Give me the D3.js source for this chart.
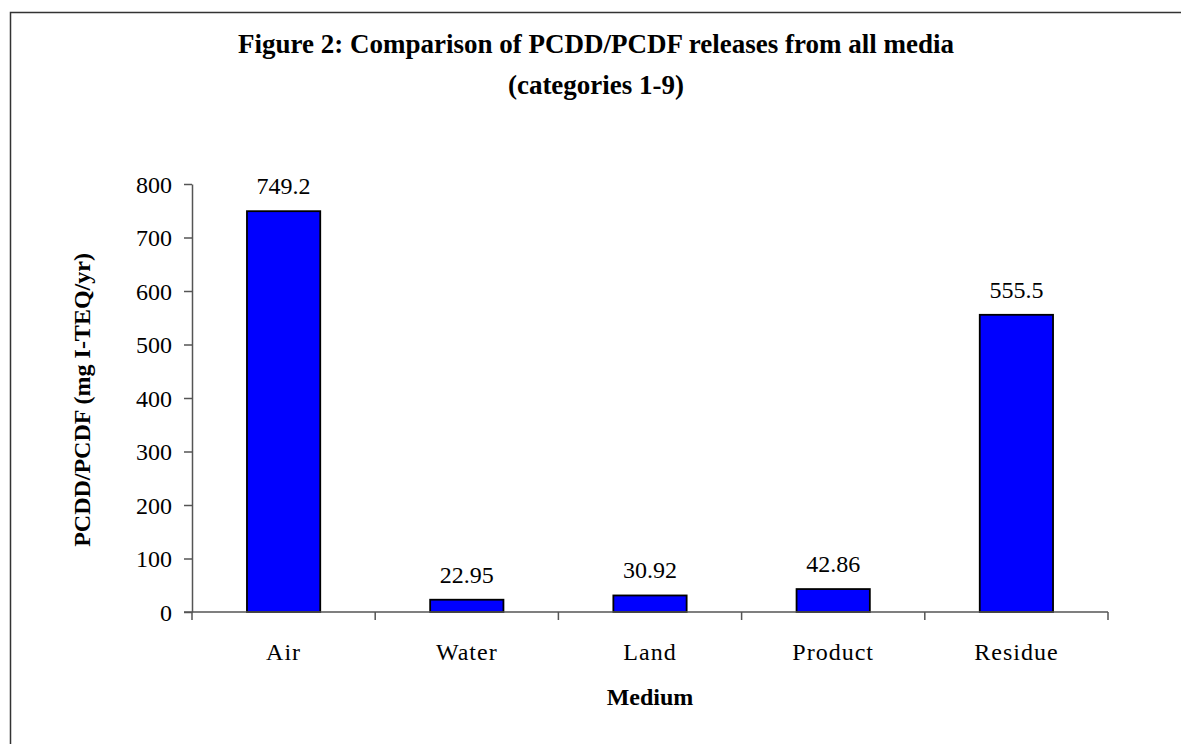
<!DOCTYPE html>
<html>
<head>
    <meta charset="utf-8">
    <title>Figure 2</title>
    <style>
        body { margin: 0; background: #fff; }
        text { font-family: "Liberation Serif", "Times New Roman", serif; fill: #000; }
        .axis path, .axis line { stroke: #555; stroke-width: 1.5px; }
        .axis text { font-size: 24px; }
        .bar { fill: #0000ff; stroke: #000; stroke-width: 1.8px; }
        .label { font-size: 24px; }
        .title { font-size: 27px; font-weight: bold; }
        .axis-title { font-size: 24px; font-weight: bold; }
    </style>
</head>
<body>
    <script src="https://d3js.org/d3.v7.min.js"></script>
    <script>
        const width = 1181;
        const height = 744;

        const categories = ["Air", "Water", "Land", "Product", "Residue"];
        const values = [749.2, 22.95, 30.92, 42.86, 555.5];
        const valueLabels = ["749.2", "22.95", "30.92", "42.86", "555.5"];
        const yTicks = [0, 100, 200, 300, 400, 500, 600, 700, 800];

        const margin = {top: 184, right: 73, bottom: 132, left: 192};

        const svg = d3.select("body").append("svg")
            .attr("width", width)
            .attr("height", height);

        // outer frame
        svg.append("rect")
            .attr("x", 10.5)
            .attr("y", 12.5)
            .attr("width", 1200)
            .attr("height", 800)
            .attr("fill", "none")
            .attr("stroke", "#333")
            .attr("stroke-width", 1.5);

        const x = d3.scaleBand()
            .domain(categories)
            .range([margin.left, width - margin.right])
            .padding(0);

        const y = d3.scaleLinear()
            .domain([0, 800])
            .range([height - margin.bottom, margin.top]);

        const barW = x.bandwidth() * 0.4;

        svg.append("g")
            .selectAll("rect")
            .data(categories)
            .enter().append("rect")
            .attr("class", "bar")
            .attr("x", d => x(d) + (x.bandwidth() - barW) / 2)
            .attr("y", (d, i) => y(values[i]))
            .attr("width", barW)
            .attr("height", (d, i) => y(0) - y(values[i]));

        svg.append("g")
            .selectAll("text")
            .data(categories)
            .enter().append("text")
            .attr("class", "label")
            .attr("text-anchor", "middle")
            .attr("x", d => x(d) + x.bandwidth() / 2)
            .attr("y", (d, i) => y(values[i]) - 17)
            .text((d, i) => valueLabels[i]);

        // y axis
        const yAxis = svg.append("g")
            .attr("class", "axis")
            .attr("transform", `translate(${margin.left},0)`)
            .call(d3.axisLeft(y).tickValues(yTicks).tickSize(8).tickPadding(12).tickSizeOuter(0));
        yAxis.selectAll("text").attr("dy", "0.34em");

        // x axis: ticks at category boundaries
        const xAxis = svg.append("g")
            .attr("class", "axis")
            .attr("transform", `translate(0,${y(0)})`);
        xAxis.append("line")
            .attr("x1", margin.left - 8)
            .attr("x2", width - margin.right)
            .attr("y1", 0).attr("y2", 0);
        const bounds = categories.map(d => x(d)).concat([x.range()[1]]);
        xAxis.selectAll(".tk")
            .data(bounds)
            .enter().append("line")
            .attr("class", "tk")
            .attr("x1", d => d).attr("x2", d => d)
            .attr("y1", 0).attr("y2", 8);
        xAxis.selectAll(".cat")
            .data(categories)
            .enter().append("text")
            .attr("class", "cat")
            .attr("text-anchor", "middle")
            .style("letter-spacing", "1px")
            .attr("x", d => x(d) + x.bandwidth() / 2)
            .attr("y", 48)
            .text(d => d);

        // titles
        const cx = (margin.left + width - margin.right) / 2;
        svg.append("text")
            .attr("class", "title")
            .attr("text-anchor", "middle")
            .attr("x", 596)
            .attr("y", 53)
            .text("Figure 2: Comparison of PCDD/PCDF releases from all media");
        svg.append("text")
            .attr("class", "title")
            .attr("text-anchor", "middle")
            .attr("x", 596)
            .attr("y", 94)
            .text("(categories 1-9)");

        svg.append("text")
            .attr("class", "axis-title")
            .attr("text-anchor", "middle")
            .attr("x", cx)
            .attr("y", 705)
            .text("Medium");

        svg.append("text")
            .attr("class", "axis-title")
            .attr("text-anchor", "middle")
            .attr("transform", `translate(90,${(y(0) + y(800)) / 2 + 2}) rotate(-90)`)
            .text("PCDD/PCDF (mg I-TEQ/yr)");
    </script>
</body>
</html>
